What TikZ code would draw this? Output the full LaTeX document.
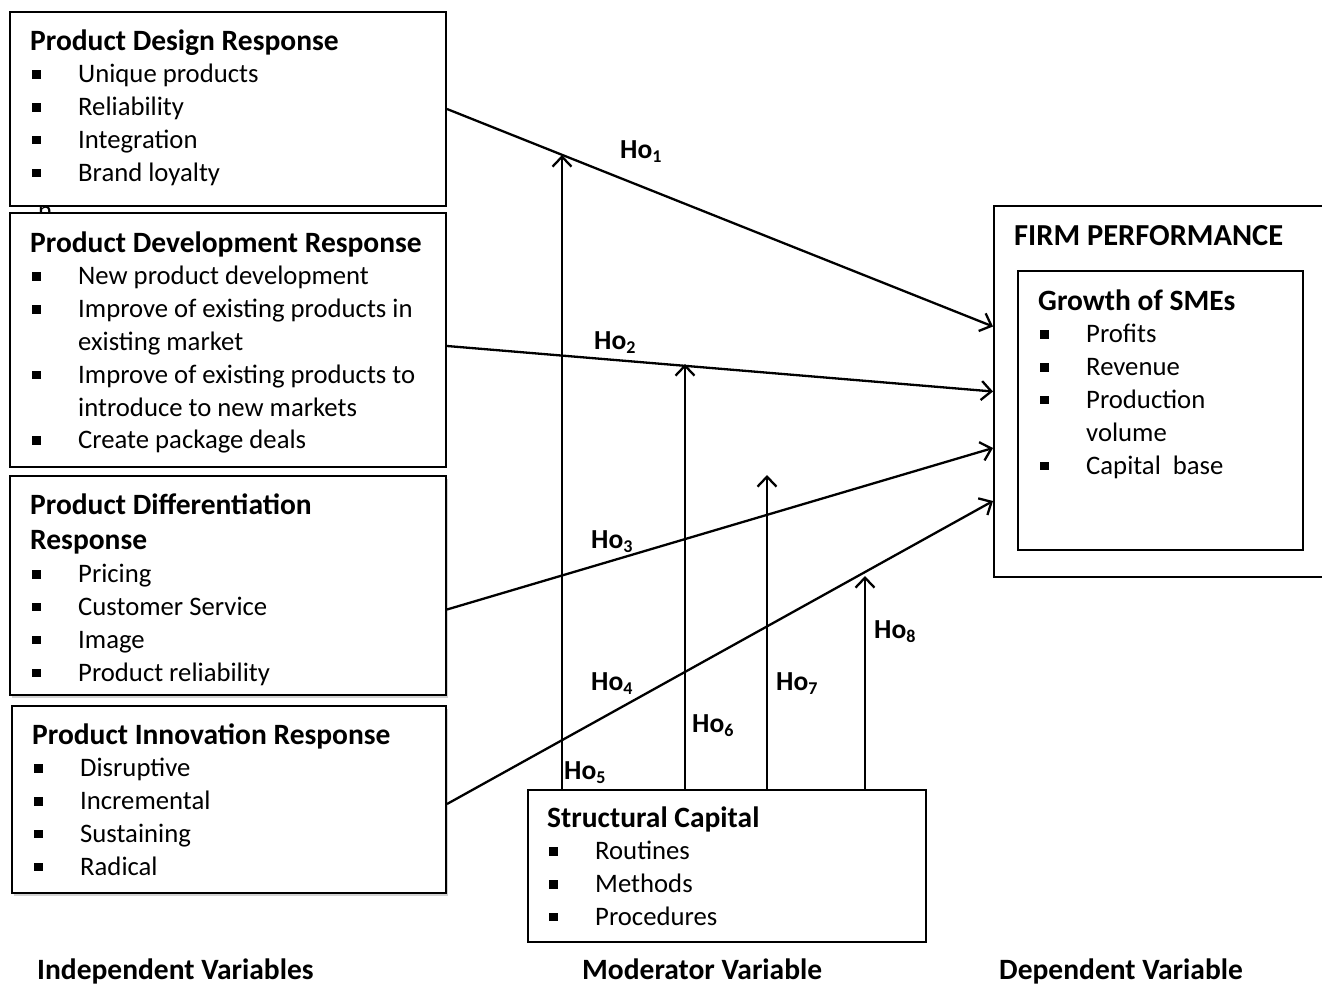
\documentclass[tikz,border=0pt]{standalone}
\usepackage{fontspec}
\setmainfont{Carlito}
\usetikzlibrary{arrows.meta,shadows}
\newcommand{\sqb}{\hspace*{2pt}\rule[4pt]{8.5pt}{8.5pt}}
\newcommand{\ttl}[1]{{\bfseries\fontsize{29.5}{32.8}\selectfont #1}}
\newcommand{\hosub}[1]{\textbf{Ho{\fontsize{18}{18}\selectfont\raisebox{-4pt}{#1}}}}
\tikzset{
  box/.style={draw, line width=2pt, fill=white, anchor=north west, inner sep=0pt},
  shbox/.style={box, drop shadow={shadow xshift=2pt, shadow yshift=-3pt, fill=black!35}},
  txt/.style={anchor=base west, inner sep=0pt, font=\fontsize{26.7}{32.8}\selectfont},
  btxt/.style={anchor=base west, inner sep=0pt, font=\bfseries\fontsize{29.5}{32.8}\selectfont},
  holab/.style={anchor=base west, inner sep=0pt, font=\fontsize{27.5}{32.8}\selectfont},
  arr/.style={line width=2.3pt, -{Straight Barb[length=10pt,width=19pt,line width=2.3pt]}},
}
\begin{document}
\begin{tikzpicture}[x=1pt,y=-1pt]
\useasboundingbox (0,0) rectangle (1322,985);
% boxes
\node[box, minimum width=436pt, minimum height=194pt] (b1) at (9,11) {};
% stray letter peeking under box 1
\node[txt] (stray) at (38,219.5) {n};
\node[box, minimum width=436pt, minimum height=254pt] (b2) at (9,212) {};
\node[shbox, minimum width=436pt, minimum height=219pt] (b3) at (9,475) {};
\node[shbox, minimum width=434pt, minimum height=187pt] (b4) at (11,705) {};
\node[box, line width=1.6pt, minimum width=398pt, minimum height=152pt] (sc) at (527,789) {};
\node[box, minimum width=340pt, minimum height=371pt] (fp) at (993,205) {};
\node[box, minimum width=285pt, minimum height=279pt] (gs) at (1017,270) {};
% box contents
\node[txt] (c1) at (30,50) {\begin{tabular}[t]{@{}p{48pt}@{}l@{}}
\multicolumn{2}{@{}l@{}}{\ttl{Product Design Response}}\\
\sqb & Unique products\\
\sqb & Reliability\\
\sqb & Integration\\
\sqb & Brand loyalty
\end{tabular}};
\node[txt] (c2) at (30,252) {\begin{tabular}[t]{@{}p{48pt}@{}l@{}}
\multicolumn{2}{@{}l@{}}{\ttl{Product Development Response}}\\
\sqb & New product development\\
\sqb & Improve of existing products in\\
 & existing market\\
\sqb & Improve of existing products to\\
 & introduce to new markets\\
\sqb & Create package deals
\end{tabular}};
\node[txt] (c3) at (30,514) {\begin{tabular}[t]{@{}p{48pt}@{}l@{}}
\multicolumn{2}{@{}l@{}}{\ttl{Product Differentiation}}\\[3pt]
\multicolumn{2}{@{}l@{}}{\ttl{Response}}\\
\sqb & Pricing\\
\sqb & Customer Service\\
\sqb & Image\\
\sqb & Product reliability
\end{tabular}};
\node[txt] (c4) at (32,744) {\begin{tabular}[t]{@{}p{48pt}@{}l@{}}
\multicolumn{2}{@{}l@{}}{\ttl{Product Innovation Response}}\\
\sqb & Disruptive\\
\sqb & Incremental\\
\sqb & Sustaining\\
\sqb & Radical
\end{tabular}};
\node[txt] (c5) at (547,827) {\begin{tabular}[t]{@{}p{48pt}@{}l@{}}
\multicolumn{2}{@{}l@{}}{\ttl{Structural Capital}}\\
\sqb & Routines\\
\sqb & Methods\\
\sqb & Procedures
\end{tabular}};
\node[btxt, font=\bfseries\fontsize{30.5}{32.8}\selectfont] (c6) at (1014,245) {FIRM PERFORMANCE};
\node[txt] (c7) at (1038,310) {\begin{tabular}[t]{@{}p{48pt}@{}l@{}}
\multicolumn{2}{@{}l@{}}{\ttl{Growth of SMEs}}\\
\sqb & Profits\\
\sqb & Revenue\\
\sqb & Production\\
 & volume\\
\sqb & Capital\ \ base
\end{tabular}};
% connectors to firm performance
\draw[arr] (b1.east) -- ([yshift=65pt]fp.west);
\draw[arr] ([yshift=-6pt]b2.east) -- ([yshift=0pt]fp.west);
\draw[arr] ([yshift=-24pt]b3.east) -- ([yshift=-56.5pt]fp.west);
\draw[arr] ([yshift=-4.5pt]b4.east) -- ([yshift=-109.5pt]fp.west);
% moderator arrows
\coordinate (m1) at (562,155);
\coordinate (m2) at (685,364);
\coordinate (m3) at (767,475);
\coordinate (m4) at (865,576);
\draw[arr] ([xshift=35pt]sc.north west) -- (m1);
\draw[arr] ([xshift=158pt]sc.north west) -- (m2);
\draw[arr] ([xshift=240pt]sc.north west) -- (m3);
\draw[arr] ([xshift=338pt]sc.north west) -- (m4);
% labels
\node[holab] (h1) at (620,158) {\hosub{1}};
\node[holab] (h2) at (594,349) {\hosub{2}};
\node[holab] (h3) at (591,548) {\hosub{3}};
\node[holab] (h4) at (591,690) {\hosub{4}};
\node[holab] (h5) at (564,779) {\hosub{5}};
\node[holab] (h6) at (692,732) {\hosub{6}};
\node[holab] (h7) at (776,690) {\hosub{7}};
\node[holab] (h8) at (874,638) {\hosub{8}};
% bottom captions
\node[btxt] (l1) at (37,979) {Independent Variables};
\node[btxt] (l2) at (582,979) {Moderator Variable};
\node[btxt] (l3) at (999,979) {Dependent Variable};
\end{tikzpicture}
\end{document}
